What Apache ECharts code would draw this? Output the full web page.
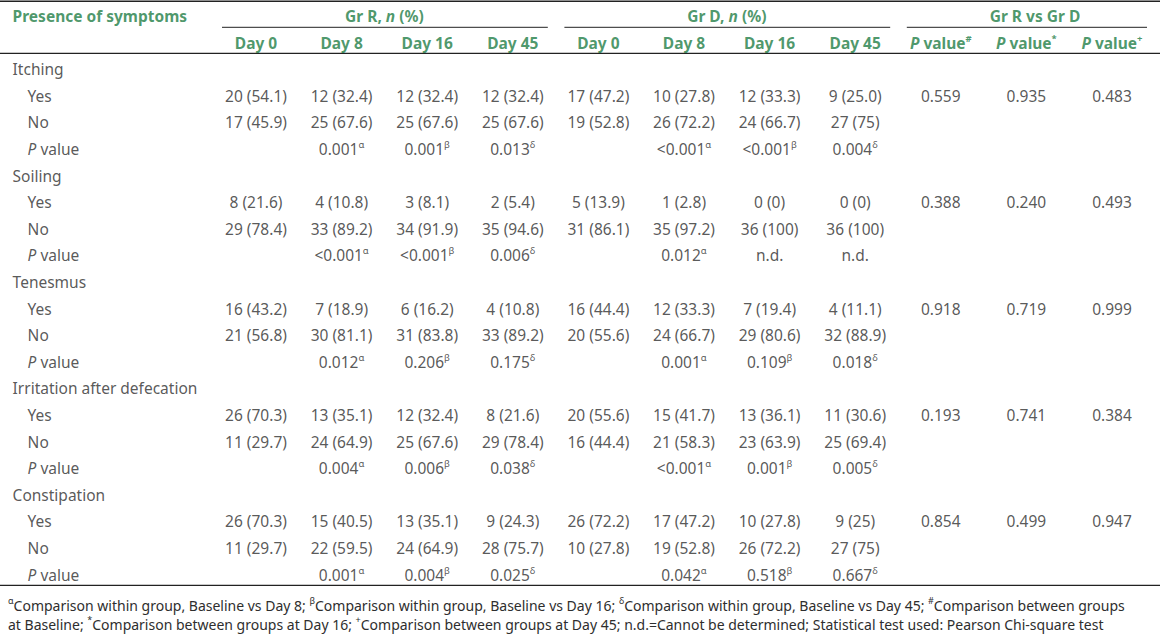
<!DOCTYPE html>
<html>
<head>
<meta charset="utf-8">
<script src="https://cdn.jsdelivr.net/npm/echarts@6/dist/echarts.min.js"></script>
<style>
html,body{margin:0;padding:0;background:#fff;}
#main{width:1160px;height:636px;}
</style>
</head>
<body>
<div id="main"></div>
<script>
// table content
var symptoms = ['Itching', 'Soiling', 'Tenesmus', 'Irritation after defecation', 'Constipation'];
var days = ['Day 0', 'Day 8', 'Day 16', 'Day 45'];
var groups = ['Gr R', 'Gr D'];
var compareTitle = 'Gr R vs Gr D';
var answers = ['Yes', 'No'];
var withinMarks = ['α', 'β', 'δ'];
var betweenMarks = ['#', '*', '+'];

var grRYes = [
    ['20 (54.1)', '12 (32.4)', '12 (32.4)', '12 (32.4)'],
    ['8 (21.6)', '4 (10.8)', '3 (8.1)', '2 (5.4)'],
    ['16 (43.2)', '7 (18.9)', '6 (16.2)', '4 (10.8)'],
    ['26 (70.3)', '13 (35.1)', '12 (32.4)', '8 (21.6)'],
    ['26 (70.3)', '15 (40.5)', '13 (35.1)', '9 (24.3)']
];
var grRNo = [
    ['17 (45.9)', '25 (67.6)', '25 (67.6)', '25 (67.6)'],
    ['29 (78.4)', '33 (89.2)', '34 (91.9)', '35 (94.6)'],
    ['21 (56.8)', '30 (81.1)', '31 (83.8)', '33 (89.2)'],
    ['11 (29.7)', '24 (64.9)', '25 (67.6)', '29 (78.4)'],
    ['11 (29.7)', '22 (59.5)', '24 (64.9)', '28 (75.7)']
];
var grRP = [
    ['0.001', '0.001', '0.013'],
    ['<0.001', '<0.001', '0.006'],
    ['0.012', '0.206', '0.175'],
    ['0.004', '0.006', '0.038'],
    ['0.001', '0.004', '0.025']
];
var grDYes = [
    ['17 (47.2)', '10 (27.8)', '12 (33.3)', '9 (25.0)'],
    ['5 (13.9)', '1 (2.8)', '0 (0)', '0 (0)'],
    ['16 (44.4)', '12 (33.3)', '7 (19.4)', '4 (11.1)'],
    ['20 (55.6)', '15 (41.7)', '13 (36.1)', '11 (30.6)'],
    ['26 (72.2)', '17 (47.2)', '10 (27.8)', '9 (25)']
];
var grDNo = [
    ['19 (52.8)', '26 (72.2)', '24 (66.7)', '27 (75)'],
    ['31 (86.1)', '35 (97.2)', '36 (100)', '36 (100)'],
    ['20 (55.6)', '24 (66.7)', '29 (80.6)', '32 (88.9)'],
    ['16 (44.4)', '21 (58.3)', '23 (63.9)', '25 (69.4)'],
    ['10 (27.8)', '19 (52.8)', '26 (72.2)', '27 (75)']
];
var grDP = [
    ['<0.001', '<0.001', '0.004'],
    ['0.012', 'n.d.', 'n.d.'],
    ['0.001', '0.109', '0.018'],
    ['<0.001', '0.001', '0.005'],
    ['0.042', '0.518', '0.667']
];
var betweenP = [
    ['0.559', '0.935', '0.483'],
    ['0.388', '0.240', '0.493'],
    ['0.918', '0.719', '0.999'],
    ['0.193', '0.741', '0.384'],
    ['0.854', '0.499', '0.947']
];
var footnotes = [
    '{s|α}Comparison within group, Baseline vs Day 8; {s|β}Comparison within group, Baseline vs Day 16; {s|δ}Comparison within group, Baseline vs Day 45; {s|#}Comparison between groups',
    'at Baseline; {s|*}Comparison between groups at Day 16; {s|+}Comparison between groups at Day 45; n.d.=Cannot be determined; Statistical test used: Pearson Chi-square test'
];

var FONT = '"Noto Sans"';
var GREEN = '#1e7d45';
var INK = '#2e2e2e';
var FS = 15.5;

function pText(v, mark){
    return v === 'n.d.' ? v : v + '{s|' + mark + '}';
}

// header cells (row 0 and 1)
var headCells = [
    {value: [-0.5, 0], name: 'Presence of symptoms', label: {position: 'right', distance: 0, offset: [-115, 0]}},
    {value: [2.5, 0], name: groups[0] + ', {bi|n} (%)'},
    {value: [6.5, 0], name: groups[1] + ', {bi|n} (%)'},
    {value: [10.1, 0], name: compareTitle}
];
for (var d = 0; d < days.length; d++) {
    headCells.push({value: [1 + d, 1], name: days[d]});
    headCells.push({value: [5 + d, 1], name: days[d]});
}
for (var k = 0; k < betweenMarks.length; k++) {
    headCells.push({value: [9 + k, 1], name: '{bi|P} value{bs|' + betweenMarks[k] + '}'});
}

// body cells
var labelCells = [], bodyCells = [];
for (var s = 0; s < symptoms.length; s++) {
    var base = 2 + s * 4;
    labelCells.push({value: [-0.5, base], name: symptoms[s], label: {offset: [-115, 0]}});
    labelCells.push({value: [-0.5, base + 1], name: answers[0]});
    labelCells.push({value: [-0.5, base + 2], name: answers[1]});
    labelCells.push({value: [-0.5, base + 3], name: '{i|P} value'});
    for (var d = 0; d < 4; d++) {
        bodyCells.push({value: [1 + d, base + 1], name: grRYes[s][d]});
        bodyCells.push({value: [1 + d, base + 2], name: grRNo[s][d]});
        bodyCells.push({value: [5 + d, base + 1], name: grDYes[s][d]});
        bodyCells.push({value: [5 + d, base + 2], name: grDNo[s][d]});
    }
    for (var k = 0; k < 3; k++) {
        bodyCells.push({value: [2 + k, base + 3], name: pText(grRP[s][k], withinMarks[k])});
        bodyCells.push({value: [6 + k, base + 3], name: pText(grDP[s][k], withinMarks[k])});
        bodyCells.push({value: [9 + k, base + 1], name: betweenP[s][k]});
    }
}

var chart = echarts.init(document.getElementById('main'), null, {renderer: 'svg'});

var bodyRich = {
    i: {fontFamily: FONT, fontSize: FS, fontStyle: 'italic', color: INK, lineHeight: 19},
    s: {fontFamily: FONT, fontSize: 9.5, color: INK, verticalAlign: 'top', lineHeight: 19}
};

var option = {
    animation: false,
    title: {
        text: footnotes.join('\n'),
        left: 3,
        top: 591,
        textStyle: {
            fontFamily: FONT, fontSize: 14, fontWeight: 'normal', color: INK, lineHeight: 19,
            rich: {s: {fontFamily: FONT, fontSize: 9, color: INK, verticalAlign: 'top', lineHeight: 19}}
        }
    },
    grid: {left: 127.6, right: 5.2, top: 2.7, bottom: 48.1},
    xAxis: {type: 'value', min: -0.5, max: 11.5, show: false},
    yAxis: {type: 'value', min: -0.5, max: 21.5, inverse: true, show: false},
    series: [
        {
            type: 'scatter', name: 'head', symbolSize: 0, silent: true, data: headCells,
            label: {
                show: true, position: 'inside', formatter: function(p){ return p.name; },
                fontFamily: FONT, fontSize: FS, fontWeight: 'bold', color: GREEN, lineHeight: 19,
                rich: {
                    bi: {fontFamily: FONT, fontSize: FS, fontWeight: 'bold', fontStyle: 'italic', color: GREEN, lineHeight: 19},
                    bs: {fontFamily: FONT, fontSize: 9.5, fontWeight: 'bold', color: GREEN, verticalAlign: 'top', lineHeight: 19}
                }
            }
        },
        {
            type: 'scatter', name: 'rowLabels', symbolSize: 0, silent: true, data: labelCells,
            label: {
                show: true, position: 'right', distance: 0, offset: [-100, 0],
                formatter: function(p){ return p.name; },
                fontFamily: FONT, fontSize: FS, color: INK, lineHeight: 19, rich: bodyRich
            }
        },
        {
            type: 'scatter', name: 'cells', symbolSize: 0, silent: true, data: bodyCells,
            label: {
                show: true, position: 'inside', formatter: function(p){ return p.name; },
                fontFamily: FONT, fontSize: FS, color: INK, lineHeight: 19, rich: bodyRich
            }
        }
    ]
};
chart.setOption(option);

// table rules, placed from the same scales
function px(x, y){ return chart.convertToPixel({gridIndex: 0}, [x, y]); }
var W = 1160;
var yTop = px(0, -0.5)[1] - 1.5;
var ySub = px(0, 0.5)[1] - 2;
var yHead = px(0, 1.5)[1] - 2.5;
var yBot = px(0, 21.5)[1] - 2.5;
var spans = [[1, 4], [5, 8], [9, 11]];
var rules = [
    {y: yTop, x1: 0, x2: W, w: 1.6},
    {y: yHead, x1: 0, x2: W, w: 1.3},
    {y: yBot, x1: 0, x2: W, w: 1.3}
];
spans.forEach(function(sp){
    rules.push({y: ySub, x1: px(sp[0], 0)[0] - 34, x2: Math.min(px(sp[1], 0)[0] + 35, W - 3), w: 1});
});
chart.setOption({
    graphic: rules.map(function(r){
        return {type: 'line', silent: true, shape: {x1: r.x1, y1: r.y, x2: r.x2, y2: r.y}, style: {stroke: '#222', lineWidth: r.w}};
    })
});
</script>
</body>
</html>
